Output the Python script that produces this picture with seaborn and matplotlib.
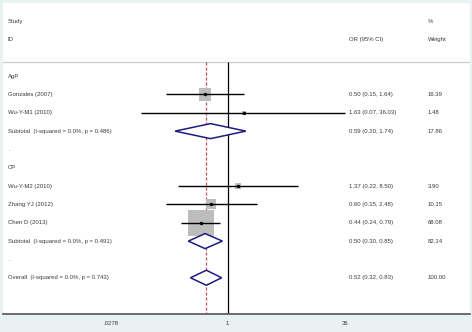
import numpy as np
import matplotlib
matplotlib.use("Agg")
import matplotlib.pyplot as plt
import matplotlib.transforms as mtransforms
import seaborn as sns
import pandas as pd

# study level data
studies = ["Gonzales (2007)", "Wu-Y-M1 (2010)", "Wu-Y-M2 (2010)", "Zhang YJ (2012)", "Chen D (2013)"]
study_rows = [1, 2, 6, 7, 8]
or_vals = [0.50, 1.63, 1.37, 0.60, 0.44]
ci_lo = [0.15, 0.07, 0.22, 0.15, 0.24]
ci_hi = [1.64, 36.03, 8.50, 2.48, 0.79]
weights = [16.39, 1.48, 3.90, 10.15, 68.08]

# pooled estimates
pool_labels = ["Subtotal  (I-squared = 0.0%, p = 0.486)",
               "Subtotal  (I-squared = 0.0%, p = 0.491)",
               "Overall  (I-squared = 0.0%, p = 0.743)"]
pool_rows = [3, 9, 11]
pool_or = [0.59, 0.50, 0.52]
pool_lo = [0.20, 0.30, 0.32]
pool_hi = [1.74, 0.85, 0.83]
pool_w = [17.86, 82.14, 100.00]

groups = ["AgP", "CP"]
group_rows = [0, 5]
blank_rows = [4, 10]

xticks = [0.0278, 1, 36]
xticklabels = [".0278", "1", "36"]

sns.set_style("white")
plt.rcParams["font.family"] = ["Liberation Sans", "DejaVu Sans"]

W, H = 472, 332
fig = plt.figure(figsize=(W / 100, H / 100), dpi=100)
fig.patch.set_facecolor("#e9f1f3")
# axes covers the white panel
left, right, top, bottom = 3, 470, 3, 313.5
ax = fig.add_axes([left / W, 1 - bottom / H, (right - left) / W, (bottom - top) / H])
ax.set_facecolor("white")

ax.set_xscale("log")
ax.set_xlim(np.exp(-6.876), np.exp(7.414))
ax.set_ylim(12.95, -3.99)

txt = dict(fontsize=4.3, color="#3a3a3a", va="center")
tr = mtransforms.blended_transform_factory(ax.transAxes, ax.transData)
col_study, col_or, col_w = 0.0107, 0.741, 0.910

sep = -0.77
ax.axhline(sep, color="#c8cccc", lw=0.9)
ax.vlines(1, sep, 12.95, color="black", lw=0.9)
ax.vlines(pool_or[-1], sep, 12.95, color="#c0504d", lw=0.9, linestyles=(0, (2.5, 1.5)))

df = pd.DataFrame({"row": study_rows, "or": or_vals, "lo": ci_lo, "hi": ci_hi, "w": weights})
sns.scatterplot(data=df, x="or", y="row", size="w", sizes=(min(weights) * 5.1, max(weights) * 5.1),
                size_norm=(min(weights), max(weights)), marker="s", color="#bdbdbd",
                linewidth=0, legend=False, ax=ax, zorder=2)
ax.hlines(df["row"], df["lo"], df["hi"], color="black", lw=1.0, zorder=3)
sns.scatterplot(data=df, x="or", y="row", color="black", s=6, linewidth=0, legend=False, ax=ax, zorder=4)

hh = 0.41
for r, m, lo, hi in zip(pool_rows, pool_or, pool_lo, pool_hi):
    ax.fill([lo, m, hi, m, lo], [r, r - hh, r, r + hh, r], facecolor="white",
            edgecolor="#1c1c80", lw=1.1, zorder=3)

ax.text(col_study, -3, "Study", transform=tr, **txt)
ax.text(col_study, -2, "ID", transform=tr, **txt)
ax.text(col_w, -3, "%", transform=tr, **txt)
ax.text(col_or, -2, "OR (95% CI)", transform=tr, **txt)
ax.text(col_w, -2, "Weight", transform=tr, **txt)

for g, r in zip(groups, group_rows):
    ax.text(col_study, r, g, transform=tr, **txt)
for r in blank_rows:
    ax.text(col_study, r, ".", transform=tr, **txt)
for s, r, m, lo, hi, w in zip(studies, study_rows, or_vals, ci_lo, ci_hi, weights):
    ax.text(col_study, r, s, transform=tr, **txt)
    ax.text(col_or, r, f"{m:.2f} ({lo:.2f}, {hi:.2f})", transform=tr, **txt)
    ax.text(col_w, r, f"{w:.2f}", transform=tr, **txt)
for s, r, m, lo, hi, w in zip(pool_labels, pool_rows, pool_or, pool_lo, pool_hi, pool_w):
    ax.text(col_study, r, s, transform=tr, **txt)
    ax.text(col_or, r, f"{m:.2f} ({lo:.2f}, {hi:.2f})", transform=tr, **txt)
    ax.text(col_w, r, f"{w:.2f}", transform=tr, **txt)

ax.set_xticks(xticks)
ax.set_xticklabels(xticklabels)
ax.minorticks_off()
ax.set_yticks([])
ax.set_xlabel("")
ax.set_ylabel("")
ax.tick_params(axis="x", direction="out", length=3.5, width=0.8, labelsize=4.3,
               labelcolor="#3a3a3a", pad=2)
for side in ["top", "left", "right"]:
    ax.spines[side].set_visible(False)
ax.spines["bottom"].set_color("#555555")
ax.spines["bottom"].set_linewidth(1.2)

fig.savefig("out.png", dpi=100, facecolor=fig.get_facecolor())
